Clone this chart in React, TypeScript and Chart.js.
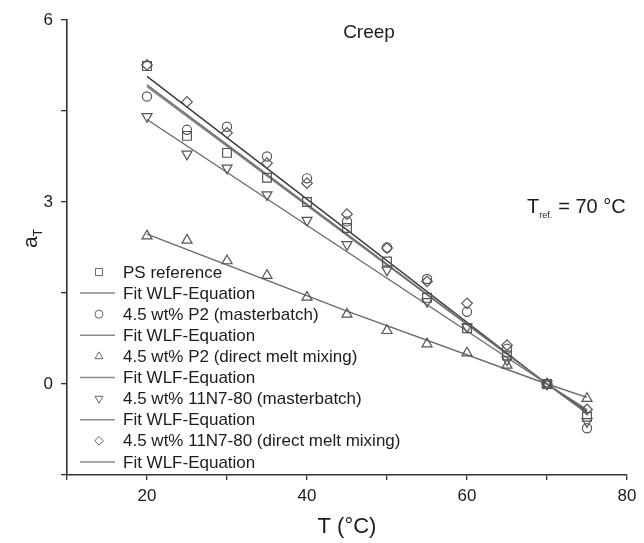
import React, { useEffect, useRef } from 'react';
import { Chart, registerables } from 'chart.js';
import * as helpers from 'chart.js/helpers';

Chart.register(...registerables);

const FONT = "'Liberation Sans', Arial, Helvetica, sans-serif";

// Temperatures of the measured points (°C)
const temps = [20, 25, 30, 35, 40, 45, 50, 55, 60, 65, 70, 75];

// Shift factors a_T
const psReference = [5.24, 4.09, 3.81, 3.40, 3.00, 2.57, 2.02, 1.42, 0.92, 0.47, 0, -0.54];
const p2Masterbatch = [4.74, 4.19, 4.24, 3.75, 3.39, 2.68, 2.25, 1.73, 1.19, 0.58, 0, -0.73];
const p2DirectMelt = [2.44, 2.37, 2.03, 1.79, 1.43, 1.15, 0.88, 0.66, 0.51, 0.31, 0, -0.24];
const n7Masterbatch = [4.41, 3.79, 3.56, 3.12, 2.70, 2.30, 1.88, 1.36, 0.94, 0.40, 0, -0.62];
const n7DirectMelt = [5.26, 4.65, 4.14, 3.64, 3.31, 2.80, 2.24, 1.69, 1.33, 0.64, 0, -0.42];

// WLF fit curves
const fitTemps = [20, 45, 70, 75];
const psFit = [4.93, 2.47, 0, -0.48];
const p2MasterFit = [4.90, 2.45, 0, -0.48];
const p2DirectFit = [2.47, 1.20, 0, -0.22];
const n7MasterFit = [4.36, 2.18, 0, -0.42];
const n7DirectFit = [5.07, 2.54, 0, -0.45];

const seriesLabels = [
  'PS reference',
  '4.5 wt% P2 (masterbatch)',
  '4.5 wt% P2 (direct melt mixing)',
  '4.5 wt% 11N7-80 (masterbatch)',
  '4.5 wt% 11N7-80 (direct melt mixing)',
];
const fitLabel = 'Fit WLF-Equation';

const xTickLabels = [20, 40, 60, 80];
const yTickLabels = [0, 3, 6];

const toPoints = (xs: number[], ys: number[]) => xs.map((x, i) => ({ x, y: ys[i] }));

const legendPlugin = {
  id: 'insideLegend',
  afterDatasetsDraw(chart: any) {
    const ctx = chart.ctx as CanvasRenderingContext2D;
    const { left, top } = chart.chartArea;
    const lineStart = left + 13;
    const lineEnd = left + 48;
    const symX = left + 32;
    const textX = left + 56;
    const y0 = top + 252;
    const dy = 21.1;
    ctx.save();
    ctx.font = `17px ${FONT}`;
    ctx.textBaseline = 'middle';
    ctx.textAlign = 'left';
    chart.data.datasets.forEach((ds: any, i: number) => {
      const y = y0 + i * dy;
      if (ds.showLine) {
        ctx.strokeStyle = '#8a8a8a';
        ctx.lineWidth = 1.5;
        ctx.beginPath();
        ctx.moveTo(lineStart, y);
        ctx.lineTo(lineEnd, y);
        ctx.stroke();
      } else {
        ctx.strokeStyle = '#666';
        ctx.fillStyle = 'rgba(0,0,0,0)';
        ctx.lineWidth = 1;
        helpers.drawPoint(ctx, {
          pointStyle: ds.pointStyle,
          radius: ds.legendRadius,
          rotation: ds.pointRotation || 0,
          borderWidth: 1,
        } as any, symX, y);
      }
      ctx.fillStyle = '#1c1c1c';
      ctx.fillText(ds.label, textX, y + 1);
    });
    ctx.restore();
  },
};

const annotationPlugin = {
  id: 'annotations',
  afterDraw(chart: any) {
    const ctx = chart.ctx as CanvasRenderingContext2D;
    ctx.save();
    ctx.fillStyle = '#1c1c1c';
    // Title inside the plot
    ctx.font = `19px ${FONT}`;
    ctx.textAlign = 'center';
    ctx.textBaseline = 'alphabetic';
    ctx.fillText('Creep', 369, 38);

    // T_ref. = 70 °C
    ctx.textAlign = 'left';
    let x = 527;
    const base = 213;
    ctx.font = `20px ${FONT}`;
    ctx.fillText('T', x, base);
    x += ctx.measureText('T').width;
    ctx.font = `9px ${FONT}`;
    ctx.fillText('ref.', x, base + 5);
    x += ctx.measureText('ref.').width + 6;
    ctx.font = `20px ${FONT}`;
    ctx.fillText('= 70 °C', x, base);

    // Y axis title a_T (rotated)
    ctx.translate(37, 248);
    ctx.rotate(-Math.PI / 2);
    ctx.font = `21px ${FONT}`;
    ctx.fillText('a', 0, 0);
    const aw = ctx.measureText('a').width;
    ctx.font = `12px ${FONT}`;
    ctx.fillText('T', aw, 5);
    ctx.restore();
  },
};

export default function App() {
  const canvasRef = useRef<HTMLCanvasElement>(null);

  useEffect(() => {
    const canvas = canvasRef.current;
    if (!canvas) return;

    const marker = (label: string, ys: number[], pointStyle: string, radius: number, legendRadius: number, rotation = 0) => ({
      label,
      data: toPoints(temps, ys),
      showLine: false,
      pointStyle,
      pointRadius: radius,
      pointHoverRadius: radius,
      pointRotation: rotation,
      borderColor: '#555',
      backgroundColor: 'rgba(0,0,0,0)',
      pointBorderWidth: 1.2,
      legendRadius,
      order: 1,
    });
    const fit = (ys: number[], color: string) => ({
      label: fitLabel,
      data: toPoints(fitTemps, ys),
      showLine: true,
      pointRadius: 0,
      pointHoverRadius: 0,
      borderColor: color,
      borderWidth: 1.4,
      backgroundColor: color,
      tension: 0,
      order: 2,
    });

    const chart = new Chart(canvas, {
      type: 'scatter',
      data: {
        datasets: [
          marker(seriesLabels[0], psReference, 'rect', 6.2, 5),
          fit(psFit, '#6e6e6e'),
          marker(seriesLabels[1], p2Masterbatch, 'circle', 4.6, 4),
          fit(p2MasterFit, '#7a7a7a'),
          marker(seriesLabels[2], p2DirectMelt, 'triangle', 5.8, 4.6),
          fit(p2DirectFit, '#6a6a6a'),
          marker(seriesLabels[3], n7Masterbatch, 'triangle', 5.8, 4.6, 180),
          fit(n7MasterFit, '#6a6a6a'),
          marker(seriesLabels[4], n7DirectMelt, 'rectRot', 5.3, 4.3),
          fit(n7DirectFit, '#3a3a3a'),
        ] as any,
      },
      options: {
        responsive: false,
        animation: false,
        events: [],
        layout: { padding: { top: 20, right: 17, left: 0, bottom: 0 } },
        plugins: {
          legend: { display: false },
          tooltip: { enabled: false },
          title: { display: false },
        },
        scales: {
          x: {
            type: 'linear',
            min: 10,
            max: 80,
            afterFit: (s: any) => { s.height = 68; },
            ticks: {
              stepSize: 10,
              autoSkip: false,
              maxRotation: 0,
              padding: 6,
              color: '#1c1c1c',
              font: { family: FONT, size: 17 },
              callback: (v: any) => (xTickLabels.includes(Number(v)) ? String(v) : ''),
            },
            grid: { drawOnChartArea: false, drawTicks: true, tickLength: 5, color: '#333', lineWidth: 1.3 },
            border: { display: true, color: '#333', width: 1.6 },
            title: {
              display: true,
              text: 'T (°C)',
              color: '#1c1c1c',
              font: { family: FONT, size: 22 },
              padding: { top: 0, bottom: 3 },
            },
          },
          y: {
            type: 'linear',
            min: -1.5,
            max: 6,
            afterFit: (s: any) => { s.width = 67; },
            ticks: {
              stepSize: 1.5,
              autoSkip: false,
              padding: 8,
              color: '#1c1c1c',
              font: { family: FONT, size: 17 },
              callback: (v: any) => (yTickLabels.includes(Number(v)) ? String(v) : ''),
            },
            grid: { drawOnChartArea: false, drawTicks: true, tickLength: 6, color: '#333', lineWidth: 1.3 },
            border: { display: true, color: '#333', width: 1.6 },
          },
        },
      },
      plugins: [legendPlugin, annotationPlugin],
    });

    return () => chart.destroy();
  }, []);

  return (
    <div style={{ position: 'fixed', left: 0, top: 0, width: 644, height: 543, background: '#fff' }}>
      <canvas ref={canvasRef} width={644} height={543} style={{ display: 'block' }} />
    </div>
  );
}
